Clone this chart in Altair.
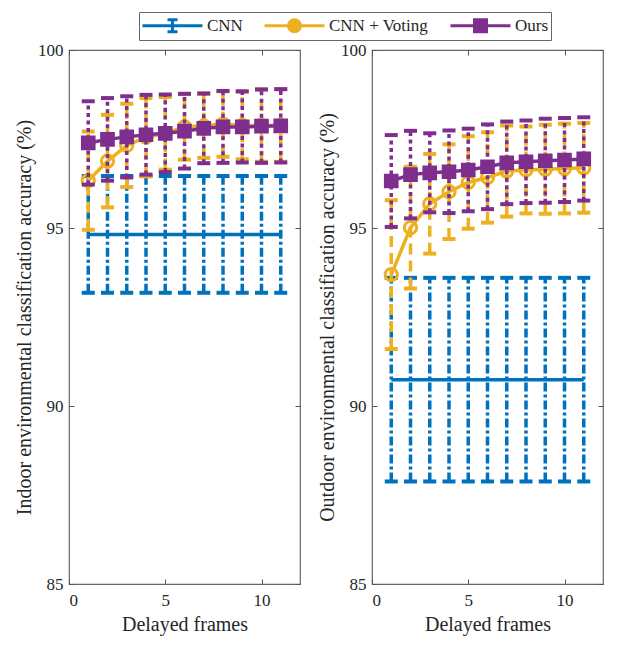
import altair as alt
import pandas as pd

# ---- data -------------------------------------------------------------
frames = [1, 2, 3, 4, 5, 6, 7, 8, 9, 10, 11]
methods = ["CNN", "CNN + Voting", "Ours"]

indoor_cnn_mean = [94.82, 94.82, 94.82, 94.82, 94.82, 94.82, 94.82, 94.82, 94.82, 94.82, 94.82]
indoor_cnn_err = [1.64, 1.64, 1.64, 1.64, 1.64, 1.64, 1.64, 1.64, 1.64, 1.64, 1.64]
indoor_vote_mean = [96.33, 96.88, 97.32, 97.55, 97.66, 97.84, 97.87, 97.92, 97.88, 97.88, 97.88]
indoor_vote_err = [1.38, 1.30, 1.17, 1.10, 1.02, 0.92, 0.90, 0.92, 0.95, 1.02, 1.02]
indoor_ours_mean = [97.39, 97.49, 97.56, 97.62, 97.66, 97.72, 97.80, 97.84, 97.84, 97.86, 97.87]
indoor_ours_err = [1.17, 1.16, 1.14, 1.12, 1.09, 1.05, 0.98, 1.01, 1.00, 1.03, 1.03]

outdoor_cnn_mean = [90.74, 90.74, 90.74, 90.74, 90.74, 90.74, 90.74, 90.74, 90.74, 90.74, 90.74]
outdoor_cnn_err = [2.86, 2.86, 2.86, 2.86, 2.86, 2.86, 2.86, 2.86, 2.86, 2.86, 2.86]
outdoor_vote_mean = [93.69, 95.01, 95.68, 96.02, 96.28, 96.42, 96.60, 96.63, 96.65, 96.67, 96.69]
outdoor_vote_err = [2.09, 1.71, 1.40, 1.33, 1.30, 1.27, 1.28, 1.22, 1.25, 1.26, 1.26]
outdoor_ours_mean = [96.32, 96.50, 96.55, 96.58, 96.63, 96.72, 96.83, 96.86, 96.89, 96.91, 96.94]
outdoor_ours_err = [1.29, 1.23, 1.11, 1.16, 1.16, 1.19, 1.16, 1.16, 1.18, 1.18, 1.17]

x_ticks = [0, 5, 10]
y_ticks = [85, 90, 95, 100]

# ---- styles -----------------------------------------------------------
FONT = "Liberation Serif"
TEXT = "#262626"
TICK = "#555555"
colors = ["#0072BD", "#EDB120", "#7E2F8E"]
bar_dash = [[9, 3, 3, 3], [11, 6], [4, 3.5]]
# legend glyphs: a line segment with the series marker, drawn 3x wider than tall and
# shifted right so the glyph starts at the entry's left edge
legend_paths = [
    "M-1,0H5M2,-0.6V0.6M1.5,-0.6H2.5M1.5,0.6H2.5",
    "M-1,0H5M1.4,0A0.6,0.6 0 1,0 2.6,0A0.6,0.6 0 1,0 1.4,0Z",
    "M-1,0H5M1.4,-0.6H2.6V0.6H1.4Z",
]


def table(means, errs):
    rows = []
    for m, mu_list, e_list in zip(methods, means, errs):
        for f, mu, e in zip(frames, mu_list, e_list):
            rows.append({"frame": f, "method": m, "mean": mu, "lo": mu - e, "hi": mu + e})
    return pd.DataFrame(rows)


xscale = alt.Scale(domain=[0, 12], nice=False, zero=False)
yscale = alt.Scale(domain=[85, 100], nice=False, zero=False)

# inward-pointing ticks: the axis is pulled 5px inside and its ticks run back to the frame
x_axis_bottom = alt.Axis(values=x_ticks, tickSize=5, offset=-5, domain=False, grid=False,
                         labelPadding=8, titlePadding=6, tickColor=TICK, tickWidth=1)
y_axis_left = alt.Axis(values=y_ticks, tickSize=5, offset=-5, domain=False, grid=False,
                       labelPadding=6, titlePadding=3, tickColor=TICK, tickWidth=1)
x_axis_top = alt.Axis(orient="top", values=x_ticks, tickSize=5, offset=-5, domain=False,
                      grid=False, labels=False, title=None, tickColor=TICK, tickWidth=1)
y_axis_right = alt.Axis(orient="right", values=y_ticks, tickSize=5, offset=-5, domain=False,
                        grid=False, labels=False, title=None, tickColor=TICK, tickWidth=1)


def panel(df, ytitle, with_legend):
    layers = []
    first = True
    for i, m in enumerate(methods):
        base = alt.Chart(df).transform_filter(alt.datum.method == m)
        c = colors[i]
        if first:
            X = alt.X("frame:Q", scale=xscale, axis=x_axis_bottom, title="Delayed frames")
            Ylo = alt.Y("lo:Q", scale=yscale, axis=y_axis_left, title=ytitle)
            first = False
        else:
            X = alt.X("frame:Q", scale=xscale, axis=None)
            Ylo = alt.Y("lo:Q", scale=yscale, axis=None)
        Xn = alt.X("frame:Q", scale=xscale, axis=None)

        def Yn(field):
            return alt.Y(field, scale=yscale, axis=None)

        bars = base.mark_rule(color=c, strokeWidth=3.5, strokeDash=bar_dash[i]).encode(
            x=X, y=Ylo, y2="hi:Q")
        cap_lo = base.mark_tick(color=c, orient="horizontal", size=13, thickness=4, opacity=1).encode(
            x=Xn, y=Yn("lo:Q"))
        cap_hi = base.mark_tick(color=c, orient="horizontal", size=13, thickness=4, opacity=1).encode(
            x=Xn, y=Yn("hi:Q"))
        line = base.mark_line(color=c, strokeWidth=3.5).encode(x=Xn, y=Yn("mean:Q"))
        layers += [bars, cap_lo, cap_hi, line]
        if m == "CNN + Voting":
            layers.append(base.mark_point(shape="circle", filled=False, color=c, size=150,
                                          strokeWidth=3, opacity=1).encode(x=Xn, y=Yn("mean:Q")))
        if m == "Ours":
            layers.append(base.mark_point(shape="square", filled=True, color=c, size=160,
                                          stroke=c, strokeWidth=2, opacity=1).encode(x=Xn, y=Yn("mean:Q")))

    # top/right tick marks of the boxed frame
    frame = alt.Chart(df).transform_filter("false").mark_point(opacity=0).encode(
        x=alt.X("frame:Q", scale=xscale, axis=x_axis_top),
        y=alt.Y("mean:Q", scale=yscale, axis=y_axis_right),
    )
    layers.append(frame)

    if with_legend:
        leg = alt.Legend(title=None, orient="none", legendX=70, legendY=-38,
                         direction="horizontal", symbolSize=400, symbolStrokeWidth=3,
                         labelFont=FONT, labelFontSize=17, labelColor=TEXT,
                         strokeColor="#666", fillColor="white", padding=2,
                         columnPadding=15, labelOffset=43, labelLimit=300)
        layers.append(
            alt.Chart(df).transform_filter("false").mark_point(opacity=1).encode(
                x=alt.X("frame:Q", scale=xscale, axis=None),
                y=alt.Y("mean:Q", scale=yscale, axis=None),
                fill=alt.Fill("method:N", scale=alt.Scale(domain=methods, range=colors), legend=leg),
                stroke=alt.Stroke("method:N", scale=alt.Scale(domain=methods, range=colors), legend=leg),
                shape=alt.Shape("method:N", scale=alt.Scale(domain=methods, range=legend_paths), legend=leg),
            )
        )
    return (alt.layer(*layers)
            .resolve_axis(x="independent", y="independent")
            .properties(width=231, height=534))


left = panel(table([indoor_cnn_mean, indoor_vote_mean, indoor_ours_mean],
                   [indoor_cnn_err, indoor_vote_err, indoor_ours_err]),
             "Indoor environmental classification accuracy (%)", True)
right = panel(table([outdoor_cnn_mean, outdoor_vote_mean, outdoor_ours_mean],
                    [outdoor_cnn_err, outdoor_vote_err, outdoor_ours_err]),
              "Outdoor environmental classification accuracy (%)", False)

chart = (
    alt.hconcat(left, right, spacing=14)
    .properties(padding={"left": 13, "top": 11, "right": 5, "bottom": 5})
    .configure(font=FONT)
    .configure_view(stroke="#666", strokeWidth=1.2)
    .configure_axis(labelFont=FONT, labelFontSize=17, labelColor=TEXT,
                    titleFont=FONT, titleFontSize=20, titleFontWeight="normal", titleColor=TEXT)
)

chart.save("out.html", embed_options={"renderer": "svg", "actions": False})
